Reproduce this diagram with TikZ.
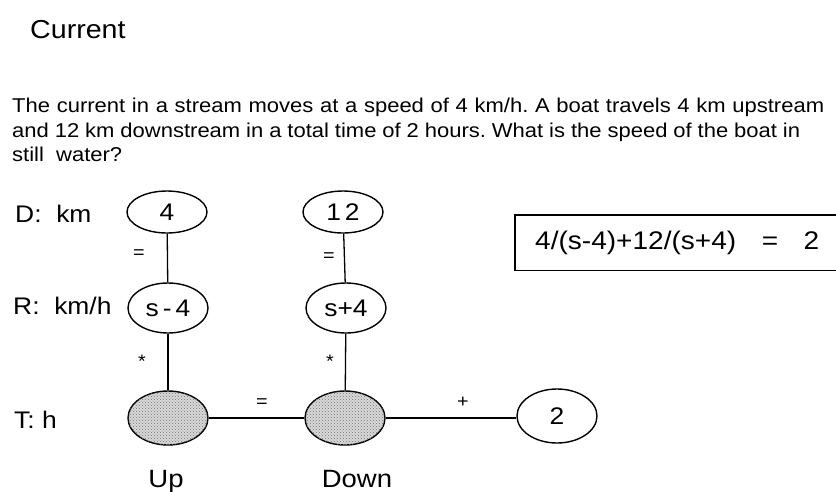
\documentclass[tikz,border=0pt]{standalone}
\usepackage{fontspec}
\setmainfont{Liberation Sans}[FakeStretch=1.1]
\usetikzlibrary{shapes.geometric,patterns}
\frenchspacing
\begin{document}
\begin{tikzpicture}[x=1pt,y=-1pt,
  txt/.style={inner sep=0pt, font=\fontsize{24}{26}\selectfont},
  ptxt/.style={inner sep=0pt, anchor=base west, font=\fontsize{20}{22}\selectfont},
  ell/.style={ellipse, draw, line width=1.4pt, minimum width=80pt, minimum height=42pt, inner sep=0pt, font=\fontsize{24}{26}\selectfont},
  tell/.style={ell, minimum height=54pt, fill=gray!30, postaction={pattern=crosshatch dots, pattern color=black!55}},
  con/.style={line width=1.3pt},
  op/.style={inner sep=0pt, font=\fontsize{18}{20}\selectfont}]
\useasboundingbox (0,0) rectangle (836,491);
% title and problem text
\node[txt, anchor=base west, font=\fontsize{26}{28}\selectfont] (title) at (30,38) {Current};
\node[ptxt] (p1) at (12,112) {\makebox[812pt][s]{The current in a stream moves at a speed of 4 km/h. A boat travels 4 km upstream}};
\node[ptxt] (p2) at (12,137) {\makebox[788pt][s]{and 12 km downstream in a total time of 2 hours. What is the speed of the boat in}};
\node[ptxt] (p3) at (12,161) {still\ \ water?};
% row labels
\node[txt, anchor=base west] (rd) at (15,222) {D:\ \ km};
\node[txt, anchor=base west] (rr) at (13,314) {R:\ \ km/h};
\node[txt, anchor=base west] (rt) at (14,428) {T: h};
\node[txt, anchor=base, font=\fontsize{25}{27}\selectfont] (up) at (166,487) {Up};
\node[txt, anchor=base, font=\fontsize{25}{27}\selectfont] (down) at (357,487) {Down};
% nodes
\node[ell] (d1) at (167,212) {4};
\node[ell] (d2) at (343,212) {1\,2};
\node[ell, minimum height=50pt] (r1) at (168,308) {s\,-\,4};
\node[ell, minimum height=50pt] (r2) at (346,308) {s+4};
\node[tell] (t1) at (168,418) {};
\node[tell] (t2) at (345,418) {};
\node[ell, minimum height=54pt] (two) at (557,416) {2};
\node[anchor=west, text width=340pt, inner xsep=0pt, minimum height=55pt, align=left, font=\fontsize{25.5}{27}\selectfont] (eq) at (515,242.5) {\hspace*{20pt}4/(s-4)+12/(s+4)\ \ \ =\ \ \ 2};
\draw[line width=1.4pt] (eq.north east) -- (eq.north west) -- (eq.south west) -- (eq.south east);
% connectors
\draw[con] (d1) -- (r1);
\draw[con] (r1) -- (t1);
\draw[con] (d2) -- (r2);
\draw[con] (r2) -- (t2);
\draw[con] (t1) -- (t2);
\draw[con] (t2) -- (two.west |- t2);
% operator labels
\node[op] (o1) at (139,254) {=};
\node[op] (o2) at (329,257) {=};
\node[op] (o3) at (142,361) {*};
\node[op] (o4) at (330,361) {*};
\node[op] (o5) at (262,403) {=};
\node[op] (o6) at (463,402) {+};
\end{tikzpicture}
\end{document}
